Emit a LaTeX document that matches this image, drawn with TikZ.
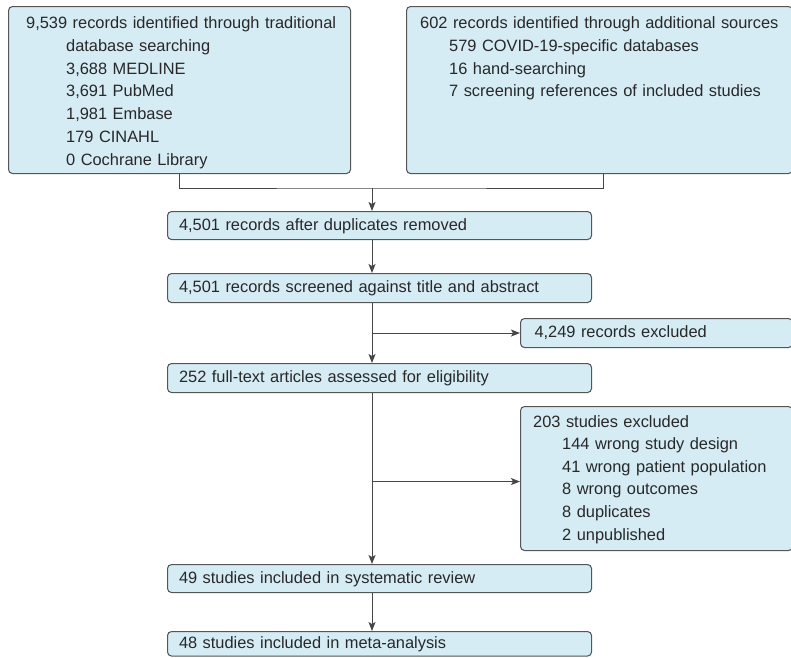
\documentclass[tikz,border=0pt]{standalone}
\usepackage{fontspec}
\setmainfont{Liberation Sans}
\usetikzlibrary{arrows.meta,calc}
\definecolor{boxfill}{RGB}{214,236,244}
\definecolor{boxdraw}{RGB}{85,85,85}
\definecolor{txtcol}{RGB}{40,40,40}
\definecolor{linecol}{RGB}{70,70,70}
\tikzset{
  frame/.style={draw=boxdraw, fill=boxfill, rounded corners=4pt, line width=1.05pt, anchor=north west, inner sep=0pt},
  onebox/.style={frame, text=txtcol, font=\fontsize{16.4}{22.8}\selectfont, align=left, inner ysep=0pt, inner xsep=#1, text height=12.5pt, text depth=3pt},
  multitxt/.style={anchor=base west, inner sep=0pt, text=txtcol, align=left, font=\fontsize{16.4}{22.8}\selectfont},
  conn/.style={draw=linecol, line width=1pt},
  arr/.style={conn, -{Stealth[length=9pt,width=7pt,inset=2pt]}}
}
\begin{document}
\begin{tikzpicture}[x=1pt,y=-1pt]
\useasboundingbox (0,0) rectangle (791,657);
% top boxes
\node[frame, minimum width=342pt, minimum height=167pt] (tl) at (8,6) {};
\node[multitxt, text width=330pt] (tltxt) at (26,28.5) {9,539 records identified through traditional\\
\hspace*{40pt}database searching\\
\hspace*{40pt}3,688 MEDLINE\\
\hspace*{40pt}3,691 PubMed\\
\hspace*{40pt}1,981 Embase\\
\hspace*{40pt}179 CINAHL\\
\hspace*{40pt}0 Cochrane Library};
\node[frame, minimum width=386pt, minimum height=167pt] (tr) at (406,6) {};
\node[multitxt, text width=370pt] (trtxt) at (420,28.5) {602 records identified through additional sources\\
\hspace*{29pt}579 COVID-19-specific databases\\
\hspace*{29pt}16 hand-searching\\
\hspace*{29pt}7 screening references of included studies};
% main column
\node[onebox=11.5pt, minimum width=424pt, minimum height=28pt, text width=401pt] (b1) at (167,211) {4,501 records after duplicates removed};
\node[onebox=11.5pt, minimum width=424pt, minimum height=29pt, text width=401pt] (b2) at (167,273) {4,501 records screened against title and abstract};
\node[onebox=14pt, minimum width=272pt, minimum height=29pt, text width=244pt] (ex1) at (520,318) {4,249 records excluded};
\node[onebox=11.5pt, minimum width=424pt, minimum height=29pt, text width=401pt] (b3) at (167,363) {252 full-text articles assessed for eligibility};
\node[frame, minimum width=272pt, minimum height=144pt] (ex2) at (520,406) {};
\node[multitxt, text width=250pt, font=\fontsize{16.4}{22.6}\selectfont] (ex2txt) at (533,427) {203 studies excluded\\
\hspace*{29pt}144 wrong study design\\
\hspace*{29pt}41 wrong patient population\\
\hspace*{29pt}8 wrong outcomes\\
\hspace*{29pt}8 duplicates\\
\hspace*{29pt}2 unpublished};
\node[onebox=11.5pt, minimum width=424pt, minimum height=28pt, text width=401pt] (b4) at (167,564) {49 studies included in systematic review};
\node[onebox=11.5pt, minimum width=424pt, minimum height=24.5pt, text width=401pt] (b5) at (167,631) {48 studies included in meta-analysis};
% connectors
\coordinate (j) at (372,188);
\coordinate (trdrop) at ($(tr.south)+(4,0)$);
\draw[conn] (tl.south) |- (j) -| (trdrop);
\draw[arr] (j) -- (b1.north -| j);
\draw[arr] (b1.south -| j) -- (b2.north -| j);
\draw[arr] (b2.south -| j) -- (b3.north -| j);
\draw[arr] (j |- ex1.west) -- (ex1.west);
\draw[arr] (b3.south -| j) -- (b4.north -| j);
\draw[arr] ($(j |- ex2.west)+(0,3)$) -- ($(ex2.west)+(0,3)$);
\draw[arr] (b4.south -| j) -- (b5.north -| j);
\end{tikzpicture}
\end{document}
